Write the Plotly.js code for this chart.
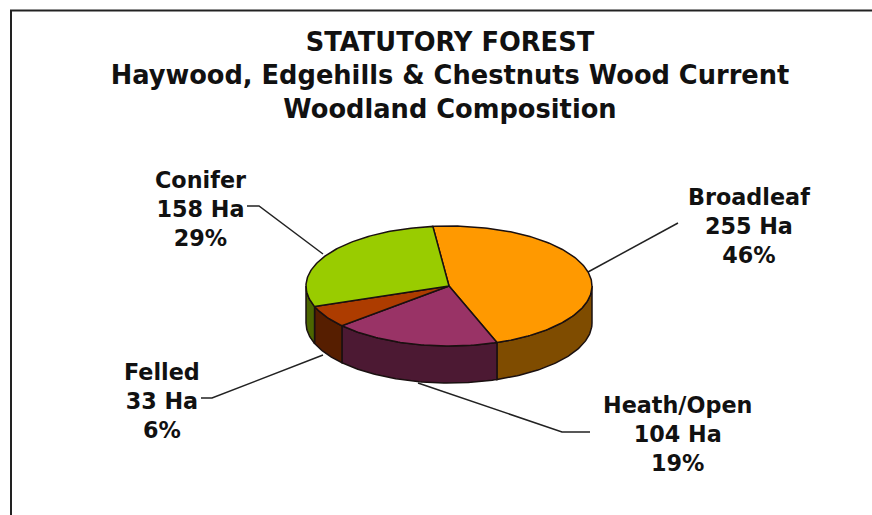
<!DOCTYPE html>
<html>
<head>
<meta charset="utf-8">
<script src="https://cdn.plot.ly/plotly-3.0.1.min.js"></script>
<style>html,body{margin:0;padding:0;background:#fff;overflow:hidden}#chart{width:872px;height:515px}</style>
</head>
<body>
<div id="chart"></div>
<script>
var categories = ['Broadleaf', 'Heath/Open', 'Felled', 'Conifer'];
var hectares = [255, 104, 33, 158];
var percents = [46, 19, 6, 29];
var topColors = ['#FF9900', '#993366', '#AD3C00', '#99CC00'];
var sideColors = ['#7F4C00', '#4C1933', '#561E00', '#4C6600'];
var labelX = [749, 677, 162, 200];
var labelY = [226, 434, 401, 209];
var leaderX = [[678, 588], [590, 562, 418], [201, 212, 323], [247, 259, 323]];
var leaderY = [[223, 272], [432, 432, 383], [398, 398, 355], [206, 206, 254]];
var titleLines = ['STATUTORY FOREST', 'Haywood, Edgehills &amp; Chestnuts Wood Current', 'Woodland Composition'];

var cx = 449, cy = 286, rx = 143, ry = 60, depth = 37, firstAngle = -6.5;
var total = hectares.reduce(function (a, b) { return a + b; }, 0);

function rim(deg, drop) {
  var r = deg * Math.PI / 180;
  return [cx + rx * Math.sin(r), cy - ry * Math.cos(r) + drop];
}
function arc(from, to, drop) {
  var pts = [], n = Math.max(2, Math.ceil(Math.abs(to - from)));
  for (var i = 0; i <= n; i++) pts.push(rim(from + (to - from) * i / n, drop));
  return pts;
}
function poly(pts, fill, name) {
  return {
    type: 'scatter', mode: 'lines', fill: 'toself', fillcolor: fill, name: name,
    x: pts.map(function (p) { return p[0]; }), y: pts.map(function (p) { return p[1]; }),
    line: { color: '#1a1010', width: 1.5 }, hoverinfo: 'name', showlegend: false
  };
}

var traces = [];
categories.forEach(function (c, i) {
  traces.push({
    type: 'scatter', mode: 'lines', x: leaderX[i], y: leaderY[i],
    line: { color: '#222', width: 1.5 }, hoverinfo: 'skip', showlegend: false
  });
});

var start = firstAngle, spans = [];
hectares.forEach(function (v) {
  var end = start + v / total * 360;
  spans.push([start, end]);
  start = end;
});

// Wall of the cylinder: only the front half (90 to 270 degrees) can be seen.
spans.forEach(function (s, i) {
  var a = Math.max(s[0], 90), b = Math.min(s[1], 270);
  if (b <= a) return;
  var pts = arc(a, b, 0).concat(arc(b, a, depth));
  pts.push(pts[0]);
  traces.push(poly(pts, sideColors[i], categories[i] + ' side'));
});
// Top faces
spans.forEach(function (s, i) {
  var pts = [[cx, cy]].concat(arc(s[0], s[1], 0));
  pts.push([cx, cy]);
  traces.push(poly(pts, topColors[i], categories[i]));
});

var annotations = categories.map(function (c, i) {
  return {
    xref: 'x', yref: 'y', x: labelX[i], y: labelY[i], showarrow: false, align: 'center',
    text: '<b>' + c + '</b><br><b>' + hectares[i] + ' Ha</b><br><b>' + percents[i] + '%</b>',
    font: { family: 'DejaVu Sans', size: 22.3, color: '#111' }
  };
});

var layout = {
  width: 872, height: 515, margin: { l: 0, r: 0, t: 0, b: 0 },
  paper_bgcolor: '#fff', plot_bgcolor: '#fff', showlegend: false,
  title: {
    text: '<b>' + titleLines.join('<br>') + '</b>',
    font: { family: 'DejaVu Sans', size: 25.7, color: '#111' },
    x: 450 / 872, xanchor: 'center', y: 1 - 51 / 515, yanchor: 'top'
  },
  xaxis: { range: [0, 872], visible: false, fixedrange: true },
  yaxis: { range: [515, 0], visible: false, fixedrange: true },
  annotations: annotations,
  shapes: [{ type: 'rect', xref: 'x', yref: 'y', x0: 11, y0: 10.5, x1: 880, y1: 525, line: { color: '#222', width: 2 } }]
};
Plotly.newPlot('chart', traces, layout, { displayModeBar: false, staticPlot: true });
</script>
</body>
</html>
